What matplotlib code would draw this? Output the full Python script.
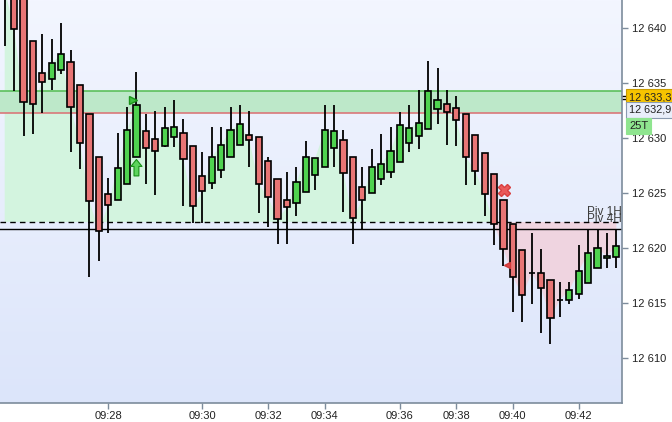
import numpy as np
import matplotlib.pyplot as plt
import matplotlib.transforms as mtransforms

plt.rcParams["font.family"] = ["Liberation Sans", "DejaVu Sans"]

# ---- candle data (25 tick bars) ----
opens = [12646.0, 12644.5, 12643.0, 12638.8, 12635.9, 12635.4, 12636.15, 12636.9, 12634.8, 12632.15,
         12628.25, 12624.9, 12624.35, 12625.8, 12628.25, 12630.6, 12629.9, 12629.3, 12630.06, 12630.5,
         12629.25, 12626.5, 12625.9, 12627.05, 12628.25, 12629.4, 12630.3, 12630.06, 12627.9, 12626.25,
         12624.4, 12624.06, 12625.06, 12626.6, 12627.4, 12629.06, 12629.8, 12628.3, 12625.5, 12624.97,
         12626.25, 12626.9, 12627.8, 12629.5, 12630.15, 12630.8, 12632.6, 12633.06, 12632.7, 12632.15,
         12630.25, 12628.6, 12626.7, 12624.4, 12622.15, 12619.8, 12617.7, 12617.7, 12617.06, 12615.3,
         12615.3, 12615.8, 12616.8, 12618.15, 12619.06, 12619.15]
highs = [12647.0, 12645.0, 12643.5, 12638.8, 12639.45, 12639.0, 12640.5, 12638.0, 12634.8, 12632.15,
         12628.25, 12626.4, 12630.45, 12632.8, 12636.0, 12632.2, 12632.45, 12632.8, 12633.45, 12631.7,
         12629.25, 12628.7, 12631.0, 12631.0, 12632.8, 12633.0, 12632.45, 12630.06, 12628.25, 12626.25,
         12626.9, 12627.4, 12629.7, 12628.15, 12633.0, 12633.0, 12630.7, 12628.3, 12627.4, 12628.97,
         12630.4, 12630.97, 12632.4, 12632.97, 12634.4, 12636.97, 12636.4, 12634.4, 12633.8, 12632.15,
         12630.25, 12628.6, 12626.7, 12624.4, 12622.15, 12619.8, 12621.35, 12619.9, 12617.06, 12616.9,
         12616.9, 12620.25, 12621.7, 12621.7, 12621.4, 12621.7]
lows = [12638.4, 12634.3, 12630.2, 12630.4, 12632.3, 12634.4, 12635.8, 12628.7, 12627.2, 12617.4,
        12618.85, 12621.4, 12624.35, 12625.8, 12628.25, 12625.85, 12624.85, 12629.2, 12629.2, 12623.85,
        12622.3, 12622.3, 12625.4, 12626.4, 12628.25, 12629.4, 12627.4, 12623.2, 12621.9, 12620.4,
        12620.4, 12622.9, 12625.06, 12625.25, 12627.4, 12627.4, 12623.25, 12620.4, 12621.7, 12624.97,
        12625.7, 12626.4, 12627.8, 12628.7, 12628.97, 12630.8, 12631.25, 12629.4, 12629.25, 12625.7,
        12625.7, 12622.9, 12620.25, 12618.4, 12614.15, 12613.3, 12614.9, 12612.3, 12611.3, 12613.7,
        12614.9, 12615.4, 12616.8, 12618.15, 12618.15, 12618.15]
closes = [12643.5, 12639.9, 12633.3, 12633.1, 12635.1, 12636.8, 12637.6, 12632.8, 12629.5, 12624.25,
          12621.55, 12623.9, 12627.3, 12630.7, 12632.97, 12629.06, 12628.8, 12630.9, 12630.97, 12628.06,
          12623.8, 12625.15, 12628.25, 12629.4, 12630.7, 12631.25, 12629.8, 12625.8, 12624.6, 12622.6,
          12623.7, 12625.97, 12628.25, 12628.15, 12630.7, 12630.6, 12626.8, 12622.7, 12624.4, 12627.4,
          12627.6, 12628.8, 12631.15, 12630.9, 12631.4, 12634.3, 12633.5, 12632.4, 12631.6, 12628.3,
          12626.97, 12624.9, 12622.15, 12619.9, 12617.4, 12615.7, 12617.7, 12616.4, 12613.6, 12615.3,
          12616.15, 12617.9, 12619.5, 12619.97, 12619.25, 12620.15]

time_idx = [11, 21, 28, 34, 42, 48, 54, 61]
time_labels = ["09:28", "09:30", "09:32", "09:34", "09:36", "09:38", "09:40", "09:42"]

zone_top = 12634.27
zone_bottom = 12632.27
piv_1h = 12622.36
piv_4h = 12621.73

price_ticks = [12610, 12615, 12620, 12625, 12630, 12635, 12640]

W, H = 672, 422
fig = plt.figure(figsize=(W / 100, H / 100), dpi=100)
ax = fig.add_axes([0, 19 / H, 622 / W, 403 / H])

x = np.arange(len(closes))
o = np.array(opens)
c = np.array(closes)
hi = np.array(highs)
lo = np.array(lows)

ax.set_xlim(-0.5, 65.6)
ax.set_ylim(12605.9, 12642.55)

# background gradient
grad = np.linspace(0, 1, 256).reshape(256, 1, 1)
top_col = np.array([243, 246, 255]) / 255
bot_col = np.array([220, 229, 250]) / 255
img = top_col + (bot_col - top_col) * grad
ax.imshow(img, extent=[0, 1, 0, 1], transform=ax.transAxes, aspect="auto", zorder=0)

# area between price and pivot
ax.fill_between(x, c, piv_1h, where=c >= piv_1h, interpolate=True,
                color="#d3f4df", lw=0, zorder=1)
ax.fill_between(x, c, piv_1h, where=c <= piv_1h, interpolate=True,
                color="#efd4e0", lw=0, zorder=1)

# zone band
ax.axhspan(zone_bottom, zone_top, color="#bde8c9", lw=0, zorder=2)
ax.axhline(zone_top, color="#5cc05c", lw=1.2, zorder=2)
ax.axhline(zone_bottom, color="#d9787a", lw=1.2, zorder=2)

# pivot lines
ax.axhline(piv_1h, color="black", lw=1, ls=(0, (4, 3)), zorder=3)
ax.axhline(piv_4h, color="black", lw=1, zorder=3)

# candles
up = c >= o
ax.vlines(x, lo, hi, color="black", lw=1.3, zorder=4)
body_bottom = np.minimum(o, c)
body_h = np.abs(c - o)
colors = np.where(up, "#4fd34f", "#e87575")
ax.bar(x, body_h, bottom=body_bottom, width=0.66, color=colors,
       edgecolor="black", lw=1.2, zorder=5)

# signal markers
ax.plot(13.6, 12633.45, marker=">", ms=6, mfc="#3fc23f", mec="#1b951b", zorder=6)
ax.annotate("", xy=(14, 12628.3), xytext=(14, 12626.3),
            arrowprops=dict(arrowstyle="simple,head_width=0.8,head_length=0.5,tail_width=0.35",
                            fc="#5cd45c", ec="#189018", lw=0.8), zorder=6)
ax.plot(53.1, 12625.3, marker="X", ms=9, mfc="#ea5a5a", mec="#d94040", zorder=6)
ax.plot(53.4, 12618.45, marker="<", ms=5, mfc="#e04848", mec="#d03a3a", zorder=6)

# pivot labels (they overlap in the original too)
ax.text(65.6, 12622.75, "Piv 1H", fontsize=8.5, color="#3c3c3c", ha="right", va="bottom", zorder=7)
ax.text(65.6, 12622.1, "Piv 4H", fontsize=8.5, color="#3c3c3c", ha="right", va="bottom", zorder=7)

# axes styling
for side in ("top", "left"):
    ax.spines[side].set_visible(False)
for side in ("right", "bottom"):
    ax.spines[side].set_color("#7d8c9c")
    ax.spines[side].set_linewidth(1.2)
    ax.spines[side].set_zorder(8)

ax.yaxis.tick_right()
ax.set_yticks(price_ticks)
ax.set_yticklabels([f"{v // 1000} {v % 1000:03d}" for v in price_ticks])
ax.set_xticks(time_idx)
ax.set_xticklabels(time_labels)
ax.tick_params(axis="both", colors="#7d8c9c", labelcolor="#222222", labelsize=8,
               length=4, width=1)
ax.tick_params(axis="x", pad=1.5)
ax.tick_params(axis="y", pad=3)

# right side price tags
trans = mtransforms.blended_transform_factory(ax.transAxes, ax.transData)
ax.plot([1.0, 1.008], [12633.85, 12633.85], color="black", lw=1, transform=trans, clip_on=False)
ax.plot([1.0, 1.008], [12633.57, 12633.57], color="black", lw=1, transform=trans, clip_on=False)

fig.text(629 / W, 1 - 97 / H, "12 633,3", fontsize=7.8, color="#222222", va="center", ha="left",
         bbox=dict(boxstyle="square,pad=0.25", fc="#f6c400", ec="#c79a00", lw=0.8))
fig.text(629 / W, 1 - 110 / H, "12 632,9", fontsize=7.8, color="#222222", va="center", ha="left",
         bbox=dict(boxstyle="square,pad=0.25", fc="#e9eefa", ec="#8a9ab0", lw=0.8))
fig.text(629 / W, 1 - 126 / H, "25T", fontsize=8, color="#222222", va="center", ha="left",
         bbox=dict(boxstyle="square,pad=0.3", fc="#8fe58f", ec="#8fe58f", lw=0.8))

fig.savefig("out.png", dpi=100, facecolor="white")
